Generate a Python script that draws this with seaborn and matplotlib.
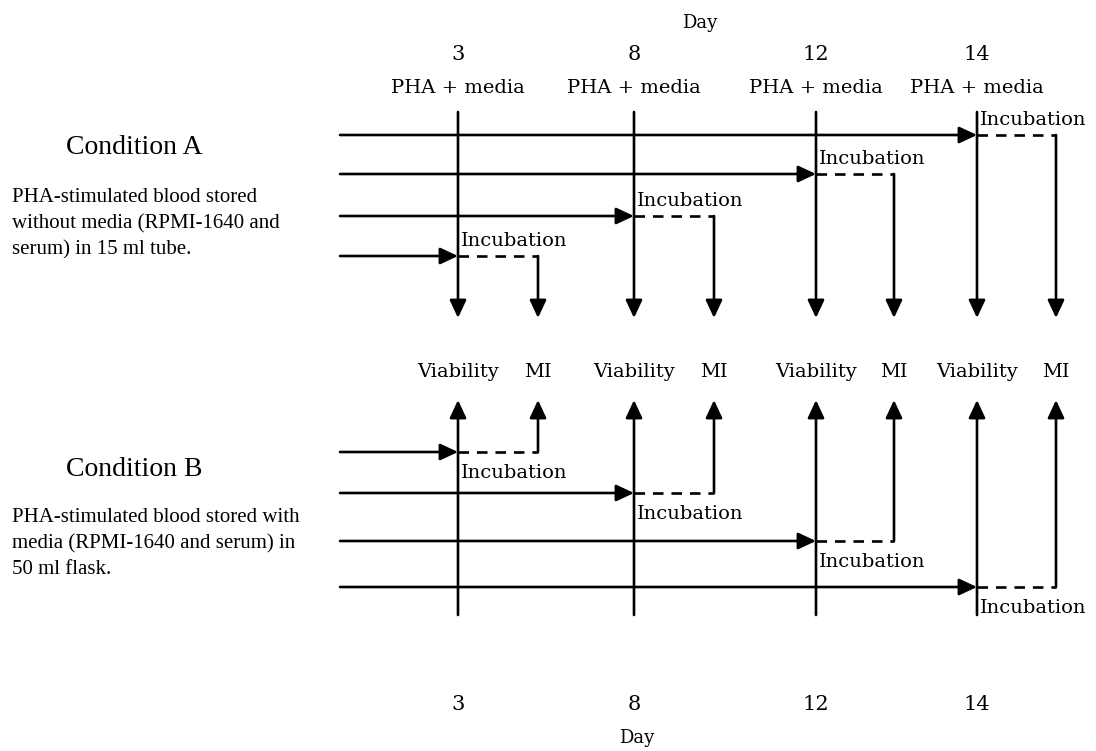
import numpy as np
import matplotlib.pyplot as plt
import pandas as pd
import seaborn as sns

# days on the time line and what happens at each one
days = [3, 8, 12, 14]
top_label = "PHA + media"
read_labels = ["Viability", "MI"]
incub_label = "Incubation"
cond_titles = ["Condition A", "Condition B"]
cond_texts = [
    ["PHA-stimulated blood stored", "without media (RPMI-1640 and", "serum) in 15 ml tube."],
    ["PHA-stimulated blood stored with", "media (RPMI-1640 and serum) in", "50 ml flask."],
]

sns.set_theme(style="white")
plt.rcParams['font.family'] = ['Liberation Serif', 'DejaVu Serif']
plt.rcParams['text.color'] = 'black'

# layout (pixel space of the figure)
W, H = 1096, 751
day_x = [458, 634, 816, 977]
mi_x = [538, 714, 894, 1056]
rows_a = [256, 216, 174, 135]
rows_b = [452, 493, 541, 587]
x_start = 340
lab_font = ['DejaVu Serif']
lw = 1.9
arrow_style = '-|>,head_length=0.6,head_width=0.28'

fig = plt.figure(figsize=(W / 100, H / 100), dpi=100)
ax = fig.add_axes([0, 0, 1, 1])


def arrow(x0, y0, x1, y1):
    ax.annotate('', xy=(x1, y1), xytext=(x0, y0),
                arrowprops=dict(arrowstyle=arrow_style, mutation_scale=18,
                                lw=lw, color='black', shrinkA=0, shrinkB=0))


# dashed incubation segments through seaborn
seg = []
for i in range(len(days)):
    seg.append(pd.DataFrame({'x': [day_x[i], mi_x[i]], 'y': [rows_a[i]] * 2, 'seg': 'a%d' % i}))
    seg.append(pd.DataFrame({'x': [day_x[i], mi_x[i]], 'y': [rows_b[i]] * 2, 'seg': 'b%d' % i}))
seg = pd.concat(seg, ignore_index=True)
sns.lineplot(data=seg, x='x', y='y', units='seg', estimator=None, color='black',
             lw=lw, dashes=False, linestyle=(0, (4, 3)), ax=ax, legend=False)
ax.set_xlim(0, W)
ax.set_ylim(H, 0)
ax.axis('off')

for i, d in enumerate(days):
    # condition A
    arrow(day_x[i], 112, day_x[i], 318)
    arrow(x_start, rows_a[i], day_x[i], rows_a[i])
    arrow(mi_x[i], rows_a[i], mi_x[i], 318)
    ax.text(day_x[i] + 3, rows_a[i] - 15, incub_label, ha='left', va='center',
            fontsize=14, family=lab_font)
    # condition B
    arrow(day_x[i], 615, day_x[i], 400)
    arrow(x_start, rows_b[i], day_x[i], rows_b[i])
    arrow(mi_x[i], rows_b[i], mi_x[i], 400)
    ax.text(day_x[i] + 3, rows_b[i] + 21, incub_label, ha='left', va='center',
            fontsize=14, family=lab_font)
    # labels
    ax.text(day_x[i], 55, str(d), ha='center', va='center', fontsize=15, family=lab_font)
    ax.text(day_x[i], 88, top_label, ha='center', va='center', fontsize=14, family=lab_font)
    ax.text(day_x[i], 372, read_labels[0], ha='center', va='center', fontsize=14, family=lab_font)
    ax.text(mi_x[i], 372, read_labels[1], ha='center', va='center', fontsize=14, family=lab_font)
    ax.text(day_x[i], 704, str(d), ha='center', va='center', fontsize=15, family=lab_font)

ax.text(700, 23, "Day", ha='center', va='center', fontsize=13, family=lab_font)
ax.text(637, 738, "Day", ha='center', va='center', fontsize=13, family=lab_font)

for title, lines, ty, py in zip(cond_titles, cond_texts, [147, 470], [197, 517]):
    ax.text(134, ty, title, ha='center', va='center', fontsize=20)
    for k, line in enumerate(lines):
        ax.text(12, py + 26.5 * k, line, ha='left', va='center', fontsize=15)

fig.savefig('out.png', dpi=100)
